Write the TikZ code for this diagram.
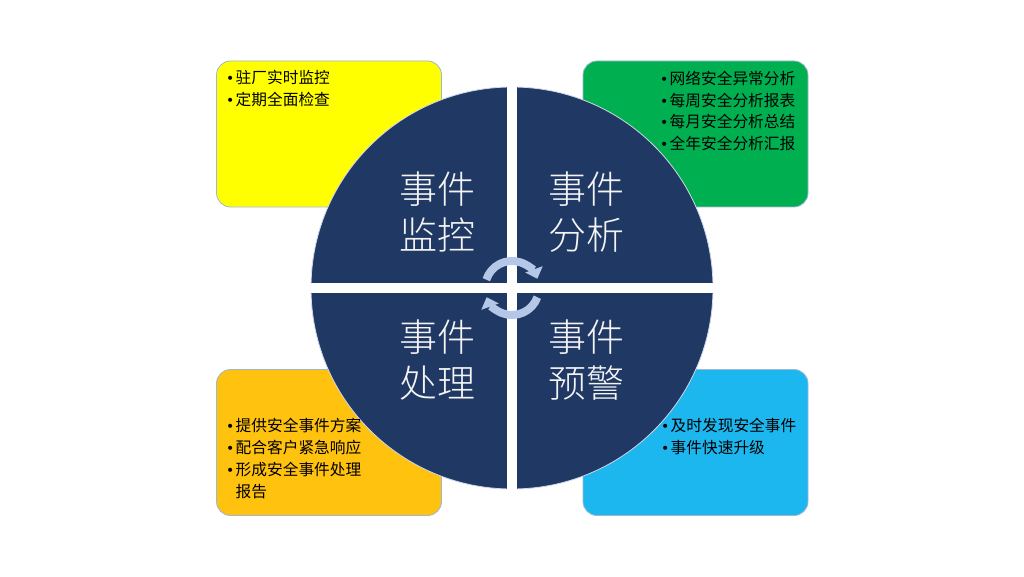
\documentclass[tikz,border=0pt]{standalone}
\usepackage{fontspec}
\setmainfont{Noto Sans CJK SC}
\newfontfamily\bigfont{Noto Sans CJK SC Light}
\newfontfamily\dotfont{DejaVu Sans}
\usetikzlibrary{arrows.meta,calc}
\definecolor{navy}{HTML}{203864}
\definecolor{boxyellow}{HTML}{FFFF00}
\definecolor{boxgreen}{HTML}{00B050}
\definecolor{boxgold}{HTML}{FFC20E}
\definecolor{boxblue}{HTML}{1CB7EE}
\definecolor{boxline}{HTML}{9DB7D8}
\definecolor{rimline}{HTML}{D0D9EA}
\definecolor{arrowblue}{HTML}{B4C7E7}
\definecolor{bigtext}{HTML}{F4F4F4}
\tikzset{
  infobox/.style={draw=boxline, line width=0.8pt, rounded corners=14pt,
    minimum width=225pt, minimum height=146pt, inner sep=0pt},
  itemline/.style={anchor=base west, inner sep=0pt, font=\fontsize{15.7}{18}\selectfont, text=black},
  bigword/.style={anchor=base, inner sep=0pt, font=\bigfont\fontsize{38}{40}\selectfont, text=bigtext},
  cyclearrow/.style={draw=arrowblue, line width=8pt, -{Triangle[length=10pt,width=18pt]}},
}
\newcommand{\bul}{\makebox[9.5pt][l]{{\dotfont\fontsize{14}{16}\selectfont •}}}
\begin{document}
\begin{tikzpicture}[x=1pt,y=1pt]
\useasboundingbox (0,0) rectangle (1024,576);
\fill[white] (0,0) rectangle (1024,576);
% boxes
\node[infobox, fill=boxyellow] (yb) at (329,442) {};
\node[infobox, fill=boxgreen]  (gb) at (695.5,442) {};
\node[infobox, fill=boxgold]   (ob) at (329,133.5) {};
\node[infobox, fill=boxblue]   (bb) at (695.5,133.5) {};
% disc
\node[circle, fill=navy, draw=rimline, line width=0.8pt, minimum size=402pt, inner sep=0pt] (disc) at (512,288) {};
\fill[white] ($(disc.north)+(-5,2)$) rectangle ($(disc.south)+(5,-2)$);
\fill[white] ($(disc.west)+(-2,-5)$) rectangle ($(disc.east)+(2,5)$);
% cycle arrows
\coordinate (hub) at (512,288);
\draw[cyclearrow] ([shift={(162:27)}]hub) arc[start angle=162, end angle=20, radius=27];
\draw[cyclearrow] ([shift={(-20:27)}]hub) arc[start angle=-20, end angle=-160, radius=27];
% big words
\node[bigword] (w1a) at (437,372.6) {事件};
\node[bigword] (w1b) at (437,326.6) {监控};
\node[bigword] (w2a) at (586,372.6) {事件};
\node[bigword] (w2b) at (586,326.6) {分析};
\node[bigword] (w3a) at (437,224.6) {事件};
\node[bigword] (w3b) at (437,178.6) {处理};
\node[bigword] (w4a) at (586,224.6) {事件};
\node[bigword] (w4b) at (586,178.6) {预警};
% yellow items
\node[itemline] (y1) at (226,492) {\bul 驻厂实时监控};
\node[itemline] (y2) at (226,470) {\bul 定期全面检查};
% green items
\node[itemline] (g1) at (660,491) {\bul 网络安全异常分析};
\node[itemline] (g2) at (660,469) {\bul 每周安全分析报表};
\node[itemline] (g3) at (660,448) {\bul 每月安全分析总结};
\node[itemline] (g4) at (660,426) {\bul 全年安全分析汇报};
% gold items
\node[itemline] (o1) at (226,145) {\bul 提供安全事件方案};
\node[itemline] (o2) at (226,123) {\bul 配合客户紧急响应};
\node[itemline] (o3) at (226,101) {\bul 形成安全事件处理};
\node[itemline] (o4) at (226,79) {\hspace*{9.5pt}报告};
% blue items
\node[itemline] (b1) at (661,145) {\bul 及时发现安全事件};
\node[itemline] (b2) at (661,123) {\bul 事件快速升级};
\end{tikzpicture}
\end{document}
